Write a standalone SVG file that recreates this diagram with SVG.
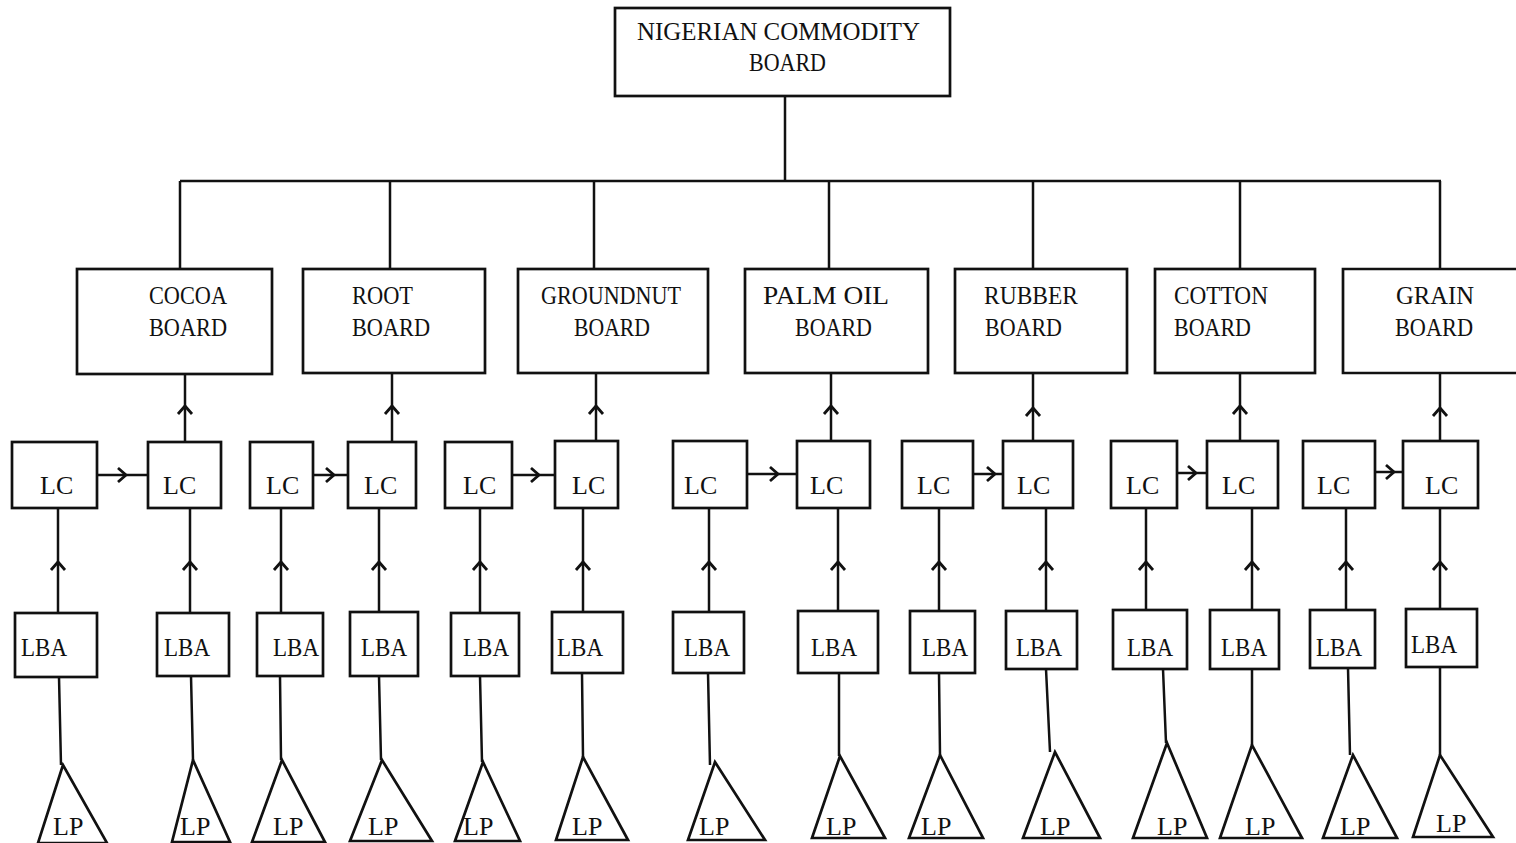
<svg xmlns="http://www.w3.org/2000/svg" width="1516" height="843" viewBox="0 0 1516 843">
<style>
.b{fill:none;stroke:#111;stroke-width:2.7}
.c{fill:none;stroke:#111;stroke-width:2.5}
.t{font-family:"Liberation Serif","Times New Roman",serif;font-size:26px;fill:#111}
</style>
<defs>
<marker id="chev" markerUnits="userSpaceOnUse" viewBox="-12 -12 24 24" markerWidth="24" markerHeight="24" refX="0" refY="0" orient="auto" overflow="visible">
<path d="M-8,-7 L0,0 L-8,7" fill="none" stroke="#111" stroke-width="2.8"/>
</marker>
</defs>
<rect width="1516" height="843" fill="#fff"/>

<g id="connectors">
<path class="c" d="M785,96 V181 M180,181 H1441"/>
<path class="c" d="M180,181 V269 M390,181 V269 M594,181 V269 M829,181 V269 M1033,181 V269 M1240,181 V269 M1440,181 V269"/>
<path class="c" marker-mid="url(#chev)" d="M185,441 L185,406 L185,374"/>
<path class="c" marker-mid="url(#chev)" d="M392,441 L392,406 L392,374"/>
<path class="c" marker-mid="url(#chev)" d="M596,441 L596,406 L596,374"/>
<path class="c" marker-mid="url(#chev)" d="M831,441 L831,406 L831,374"/>
<path class="c" marker-mid="url(#chev)" d="M1033,441 L1033,408 L1033,374"/>
<path class="c" marker-mid="url(#chev)" d="M1240,441 L1240,406 L1240,374"/>
<path class="c" marker-mid="url(#chev)" d="M1440,441 L1440,408 L1440,374"/>
<path class="c" marker-mid="url(#chev)" d="M97,475 L126,475 L148,475"/>
<path class="c" marker-mid="url(#chev)" d="M313,475 L334,475 L348,475"/>
<path class="c" marker-mid="url(#chev)" d="M512,475 L539,475 L555,475"/>
<path class="c" marker-mid="url(#chev)" d="M747,474 L778,474 L797,474"/>
<path class="c" marker-mid="url(#chev)" d="M973,474 L995,474 L1003,474"/>
<path class="c" marker-mid="url(#chev)" d="M1177,473 L1196,473 L1207,473"/>
<path class="c" marker-mid="url(#chev)" d="M1375,472 L1394,472 L1403,472"/>
<path class="c" marker-mid="url(#chev)" d="M58,613 L58,562 L58,508"/>
<path class="c" marker-mid="url(#chev)" d="M190,613 L190,562 L190,508"/>
<path class="c" marker-mid="url(#chev)" d="M281,613 L281,562 L281,508"/>
<path class="c" marker-mid="url(#chev)" d="M379,613 L379,562 L379,508"/>
<path class="c" marker-mid="url(#chev)" d="M480,613 L480,562 L480,508"/>
<path class="c" marker-mid="url(#chev)" d="M583,612 L583,562 L583,508"/>
<path class="c" marker-mid="url(#chev)" d="M709,612 L709,562 L709,508"/>
<path class="c" marker-mid="url(#chev)" d="M838,611 L838,562 L838,508"/>
<path class="c" marker-mid="url(#chev)" d="M939,611 L939,562 L939,508"/>
<path class="c" marker-mid="url(#chev)" d="M1046,611 L1046,562 L1046,508"/>
<path class="c" marker-mid="url(#chev)" d="M1146,611 L1146,562 L1146,508"/>
<path class="c" marker-mid="url(#chev)" d="M1252,610 L1252,562 L1252,508"/>
<path class="c" marker-mid="url(#chev)" d="M1346,610 L1346,562 L1346,508"/>
<path class="c" marker-mid="url(#chev)" d="M1440,609 L1440,562 L1440,508"/>
<path class="c" d="M59,677 L61,765 M191,676 L193,760 M280,676 L281,760 M379,676 L381,760 M480,676 L482,762 M582,673 L583,757 M708,673 L710,765 M839,673 L839,756 M939,673 L940,755 M1046,669 L1050,752 M1163,669 L1166,743 M1252,669 L1252,745 M1348,668 L1350,755 M1440,667 L1440,755"/>
</g>

<g id="commodity-board"><rect class="b" x="615" y="8" width="335" height="88"/><text class="t" x="637" y="40" textLength="283" lengthAdjust="spacingAndGlyphs">NIGERIAN COMMODITY</text><text class="t" x="749" y="71" textLength="77" lengthAdjust="spacingAndGlyphs">BOARD</text></g>

<g id="cocoa-board"><rect class="b" x="77" y="269" width="195" height="105"/><text class="t" x="149" y="304" textLength="78" lengthAdjust="spacingAndGlyphs">COCOA</text><text class="t" x="149" y="336" textLength="78" lengthAdjust="spacingAndGlyphs">BOARD</text></g>
<g id="root-board"><rect class="b" x="303" y="269" width="182" height="104"/><text class="t" x="352" y="304" textLength="61" lengthAdjust="spacingAndGlyphs">ROOT</text><text class="t" x="352" y="336" textLength="78" lengthAdjust="spacingAndGlyphs">BOARD</text></g>
<g id="groundnut-board"><rect class="b" x="518" y="269" width="190" height="104"/><text class="t" x="541" y="304" textLength="140" lengthAdjust="spacingAndGlyphs">GROUNDNUT</text><text class="t" x="574" y="336" textLength="76" lengthAdjust="spacingAndGlyphs">BOARD</text></g>
<g id="palmoil-board"><rect class="b" x="745" y="269" width="183" height="104"/><text class="t" x="763" y="304" textLength="126" lengthAdjust="spacingAndGlyphs">PALM OIL</text><text class="t" x="795" y="336" textLength="77" lengthAdjust="spacingAndGlyphs">BOARD</text></g>
<g id="rubber-board"><rect class="b" x="955" y="269" width="172" height="104"/><text class="t" x="984" y="304" textLength="94" lengthAdjust="spacingAndGlyphs">RUBBER</text><text class="t" x="985" y="336" textLength="77" lengthAdjust="spacingAndGlyphs">BOARD</text></g>
<g id="cotton-board"><rect class="b" x="1155" y="269" width="160" height="104"/><text class="t" x="1174" y="304" textLength="94" lengthAdjust="spacingAndGlyphs">COTTON</text><text class="t" x="1174" y="336" textLength="77" lengthAdjust="spacingAndGlyphs">BOARD</text></g>
<g id="grain-board"><path class="b" d="M1516,269 H1343 V373 H1516"/><text class="t" x="1396" y="304" textLength="78" lengthAdjust="spacingAndGlyphs">GRAIN</text><text class="t" x="1395" y="336" textLength="78" lengthAdjust="spacingAndGlyphs">BOARD</text></g>

<g id="lc-1"><rect class="b" x="12" y="442" width="85" height="66"/><text class="t" x="40" y="494">LC</text></g>
<g id="lc-2"><rect class="b" x="148" y="442" width="73" height="66"/><text class="t" x="163" y="494">LC</text></g>
<g id="lc-3"><rect class="b" x="250" y="442" width="63" height="66"/><text class="t" x="266" y="494">LC</text></g>
<g id="lc-4"><rect class="b" x="348" y="442" width="68" height="66"/><text class="t" x="364" y="494">LC</text></g>
<g id="lc-5"><rect class="b" x="445" y="442" width="67" height="66"/><text class="t" x="463" y="494">LC</text></g>
<g id="lc-6"><rect class="b" x="555" y="441" width="63" height="67"/><text class="t" x="572" y="494">LC</text></g>
<g id="lc-7"><rect class="b" x="673" y="441" width="74" height="67"/><text class="t" x="684" y="494">LC</text></g>
<g id="lc-8"><rect class="b" x="797" y="441" width="73" height="67"/><text class="t" x="810" y="494">LC</text></g>
<g id="lc-9"><rect class="b" x="902" y="441" width="71" height="67"/><text class="t" x="917" y="494">LC</text></g>
<g id="lc-10"><rect class="b" x="1003" y="441" width="70" height="67"/><text class="t" x="1017" y="494">LC</text></g>
<g id="lc-11"><rect class="b" x="1111" y="441" width="66" height="67"/><text class="t" x="1126" y="494">LC</text></g>
<g id="lc-12"><rect class="b" x="1207" y="441" width="71" height="67"/><text class="t" x="1222" y="494">LC</text></g>
<g id="lc-13"><rect class="b" x="1303" y="441" width="72" height="67"/><text class="t" x="1317" y="494">LC</text></g>
<g id="lc-14"><rect class="b" x="1403" y="441" width="75" height="67"/><text class="t" x="1425" y="494">LC</text></g>

<g id="lba-1"><rect class="b" x="15" y="613" width="82" height="64"/><text class="t" x="21" y="656" textLength="46" lengthAdjust="spacingAndGlyphs">LBA</text></g>
<g id="lba-2"><rect class="b" x="157" y="613" width="72" height="63"/><text class="t" x="164" y="656" textLength="46" lengthAdjust="spacingAndGlyphs">LBA</text></g>
<g id="lba-3"><rect class="b" x="257" y="613" width="66" height="63"/><text class="t" x="273" y="656" textLength="46" lengthAdjust="spacingAndGlyphs">LBA</text></g>
<g id="lba-4"><rect class="b" x="350" y="612" width="68" height="64"/><text class="t" x="361" y="656" textLength="46" lengthAdjust="spacingAndGlyphs">LBA</text></g>
<g id="lba-5"><rect class="b" x="451" y="613" width="68" height="63"/><text class="t" x="463" y="656" textLength="46" lengthAdjust="spacingAndGlyphs">LBA</text></g>
<g id="lba-6"><rect class="b" x="552" y="612" width="71" height="61"/><text class="t" x="557" y="656" textLength="46" lengthAdjust="spacingAndGlyphs">LBA</text></g>
<g id="lba-7"><rect class="b" x="673" y="612" width="71" height="61"/><text class="t" x="684" y="656" textLength="46" lengthAdjust="spacingAndGlyphs">LBA</text></g>
<g id="lba-8"><rect class="b" x="798" y="611" width="80" height="62"/><text class="t" x="811" y="656" textLength="46" lengthAdjust="spacingAndGlyphs">LBA</text></g>
<g id="lba-9"><rect class="b" x="910" y="611" width="65" height="62"/><text class="t" x="922" y="656" textLength="46" lengthAdjust="spacingAndGlyphs">LBA</text></g>
<g id="lba-10"><rect class="b" x="1006" y="611" width="71" height="58"/><text class="t" x="1016" y="656" textLength="46" lengthAdjust="spacingAndGlyphs">LBA</text></g>
<g id="lba-11"><rect class="b" x="1113" y="610" width="74" height="59"/><text class="t" x="1127" y="656" textLength="46" lengthAdjust="spacingAndGlyphs">LBA</text></g>
<g id="lba-12"><rect class="b" x="1210" y="610" width="69" height="59"/><text class="t" x="1221" y="656" textLength="46" lengthAdjust="spacingAndGlyphs">LBA</text></g>
<g id="lba-13"><rect class="b" x="1310" y="610" width="65" height="58"/><text class="t" x="1316" y="656" textLength="46" lengthAdjust="spacingAndGlyphs">LBA</text></g>
<g id="lba-14"><rect class="b" x="1406" y="609" width="71" height="58"/><text class="t" x="1411" y="653" textLength="46" lengthAdjust="spacingAndGlyphs">LBA</text></g>

<g id="lp-1"><path class="b" d="M63,765 L38,843 H107 Z"/><text class="t" x="53" y="835">LP</text></g>
<g id="lp-2"><path class="b" d="M193,760 L172,842 H230 Z"/><text class="t" x="180" y="835">LP</text></g>
<g id="lp-3"><path class="b" d="M282,760 L252,842 H325 Z"/><text class="t" x="273" y="835">LP</text></g>
<g id="lp-4"><path class="b" d="M382,760 L350,841 H432 Z"/><text class="t" x="368" y="835">LP</text></g>
<g id="lp-5"><path class="b" d="M483,762 L455,841 H520 Z"/><text class="t" x="463" y="835">LP</text></g>
<g id="lp-6"><path class="b" d="M583,757 L556,840 H628 Z"/><text class="t" x="572" y="835">LP</text></g>
<g id="lp-7"><path class="b" d="M715,762 L688,840 H765 Z"/><text class="t" x="699" y="835">LP</text></g>
<g id="lp-8"><path class="b" d="M840,756 L812,838 H885 Z"/><text class="t" x="826" y="835">LP</text></g>
<g id="lp-9"><path class="b" d="M940,755 L909,838 H983 Z"/><text class="t" x="921" y="835">LP</text></g>
<g id="lp-10"><path class="b" d="M1055,752 L1023,838 H1100 Z"/><text class="t" x="1040" y="835">LP</text></g>
<g id="lp-11"><path class="b" d="M1167,743 L1133,838 H1207 Z"/><text class="t" x="1157" y="835">LP</text></g>
<g id="lp-12"><path class="b" d="M1252,745 L1220,838 H1302 Z"/><text class="t" x="1245" y="835">LP</text></g>
<g id="lp-13"><path class="b" d="M1353,755 L1323,838 H1397 Z"/><text class="t" x="1340" y="835">LP</text></g>
<g id="lp-14"><path class="b" d="M1440,755 L1413,837 H1493 Z"/><text class="t" x="1436" y="832">LP</text></g>
</svg>
